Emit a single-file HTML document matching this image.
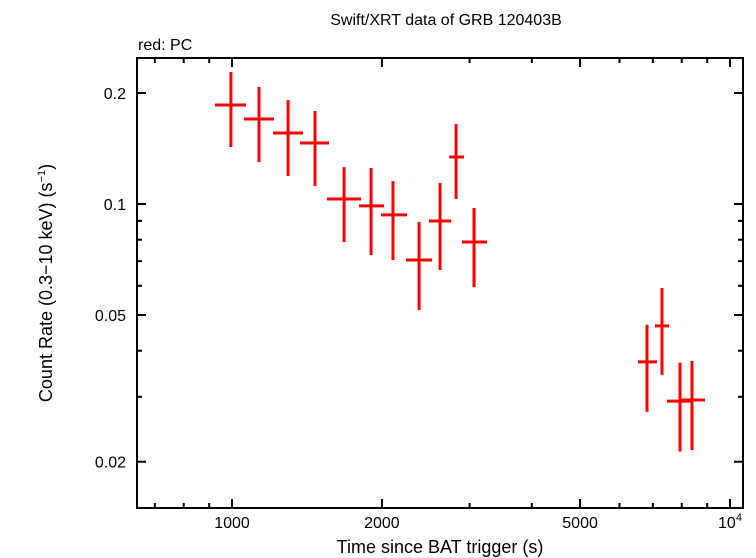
<!DOCTYPE html>
<html><head><meta charset="utf-8"><style>
body{margin:0;background:#fff}
svg{display:block;font-family:"Liberation Sans",sans-serif}
</style></head><body>
<svg id="c" width="756" height="558" viewBox="0 0 756 558">
<text x="446" y="25" font-size="16" text-anchor="middle">Swift/XRT data of GRB 120403B</text>
<text x="138" y="50" font-size="16">red: PC</text>
<text transform="translate(52,283) rotate(-90)" font-size="18" text-anchor="middle">Count Rate (0.3−10 keV) (s<tspan font-size="11" dy="-7">−1</tspan><tspan dy="7">)</tspan></text>
<text x="440" y="553" font-size="18" text-anchor="middle">Time since BAT trigger (s)</text>
<g id="ax"></g>
<g id="marks"></g>
<rect x="137" y="58" width="606" height="450" fill="none" stroke="#000" stroke-width="2"/>
</svg>
<script>
const tMid=[995,1133,1296,1468,1679,1902,2105,2375,2617,2818,3062,6813,7302,7936,8389];
const tLo=[924,1057,1209,1370,1551,1799,1992,2236,2486,2729,2896,6536,7069,7474,7973];
const tHi=[1067,1214,1389,1566,1816,2020,2246,2521,2754,2924,3251,7135,7542,8389,8907];
const rate=[0.1856,0.170,0.1558,0.1464,0.1032,0.0988,0.0934,0.0705,0.0899,0.1341,0.0789,0.0373,0.0467,0.0292,0.0294];
const rLo=[0.1428,0.130,0.1191,0.1119,0.0789,0.0727,0.0705,0.0516,0.0662,0.1032,0.0595,0.0273,0.0344,0.0213,0.0215];
const rHi=[0.228,0.2076,0.1914,0.1787,0.1259,0.1252,0.1154,0.0894,0.114,0.1648,0.0975,0.0470,0.0592,0.0371,0.0375];
const xTickVals=[1000,2000,5000,10000];
const xTickLabels=["1000","2000","5000","10"];
const xMinor=[700,800,900,3000,4000,6000,7000,8000,9000];
const yTickVals=[0.02,0.05,0.1,0.2];
const yTickLabels=["0.02","0.05","0.1","0.2"];
const yMinor=[0.03,0.04,0.06,0.07,0.08,0.09];
const NS="http://www.w3.org/2000/svg";
function X(t){return 232+(Math.log10(t)-3)*498;}
function Y(r){return 204-(Math.log10(r)+1)*368.7;}
function el(tag,attrs,parent){const e=document.createElementNS(NS,tag);for(const k in attrs)e.setAttribute(k,attrs[k]);parent.appendChild(e);return e;}
const ax=document.getElementById('ax'),mk=document.getElementById('marks');
function tick(x1,y1,x2,y2){const l=el('line',{x1,y1,x2,y2,stroke:'#000','stroke-width':2},ax);

}
xTickVals.forEach((v,i)=>{const x=X(v);tick(x,508,x,499);tick(x,58,x,67);
const t=el('text',{x:x,y:528,'font-size':16,'text-anchor':'middle'},ax);


t.textContent=xTickLabels[i];
if(v===10000){const s=el('tspan',{'font-size':11,dy:-7},t);s.textContent='4';}});
xMinor.forEach(v=>{const x=X(v);tick(x,508,x,503);tick(x,58,x,63);});
yTickVals.forEach((v,i)=>{const y=Y(v);tick(137,y,146,y);tick(743,y,734,y);
const t=el('text',{x:126,y:y+6,'font-size':16,'text-anchor':'end'},ax);


t.textContent=yTickLabels[i];});
yMinor.forEach(v=>{const y=Y(v);tick(137,y,142,y);tick(743,y,738,y);});
tMid.forEach((t,i)=>{const g=el('g',{stroke:'#f00','stroke-width':3},mk);


el('line',{x1:X(tLo[i]),x2:X(tHi[i]),y1:Y(rate[i]),y2:Y(rate[i])},g);
el('line',{x1:X(t),x2:X(t),y1:Y(rLo[i]),y2:Y(rHi[i])},g);});
</script>
</body></html>
